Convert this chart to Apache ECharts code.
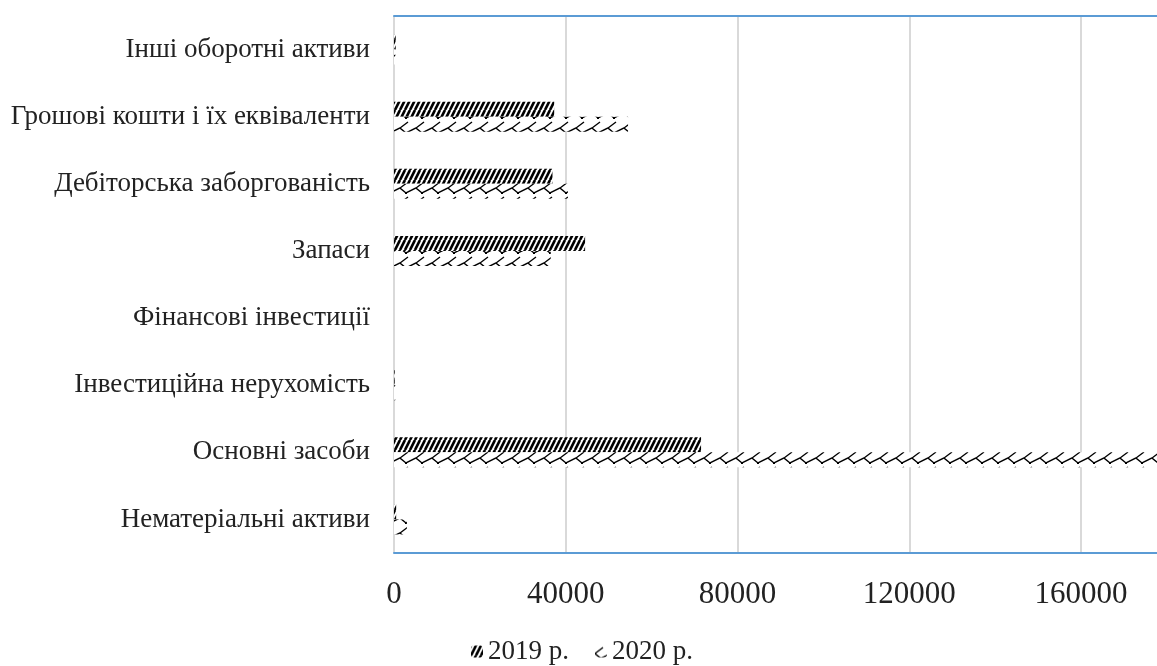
<!DOCTYPE html>
<html>
<head>
<meta charset="utf-8">
<script src="https://cdn.jsdelivr.net/npm/echarts@6/dist/echarts.min.js"></script>
<style>
html,body{margin:0;padding:0;background:#fff;overflow:hidden;}
#chart{width:1180px;height:666px;}
</style>
</head>
<body>
<div id="chart"></div>
<script>
const categories = [
  'Нематеріальні активи',
  'Основні засоби',
  'Інвестиційна нерухомість',
  'Фінансові інвестиції',
  'Запаси',
  'Дебіторська заборгованість',
  'Грошові кошти і їх еквіваленти',
  'Інші оборотні активи'
];
const values2019 = [500, 71500, 150, 0, 44500, 36900, 37300, 400];
const values2020 = [3000, 178500, 300, 0, 36500, 40500, 54500, 300];
const seriesNames = ['2019 р.', '2020 р.'];
const xTicks = [0, 40000, 80000, 120000, 160000];

function makeHatch() {
  const c = document.createElement('canvas');
  c.width = 5; c.height = 10;
  const g = c.getContext('2d');
  g.fillStyle = '#fff'; g.fillRect(0, 0, 5, 10);
  g.strokeStyle = '#000'; g.lineWidth = 2.6;
  g.beginPath();
  g.moveTo(-5, 10); g.lineTo(0, 0);
  g.moveTo(0, 10); g.lineTo(5, 0);
  g.moveTo(5, 10); g.lineTo(10, 0);
  g.stroke();
  return c;
}
function makeZigzag() {
  const c = document.createElement('canvas');
  c.width = 16; c.height = 15;
  const g = c.getContext('2d');
  g.fillStyle = '#fff'; g.fillRect(0, 0, 16, 15);
  g.strokeStyle = '#000'; g.lineWidth = 1.4;
  g.beginPath();
  g.moveTo(0, 8); g.lineTo(6, 13); g.lineTo(16, 8);
  g.moveTo(0, 8); g.lineTo(8, 2);
  g.moveTo(16, 8); g.lineTo(24, 2);
  g.stroke();
  g.fillStyle = '#000';
  g.fillRect(5, 12, 2, 2);
  return c;
}
const pat2019 = { image: makeHatch(), repeat: 'repeat' };
const pat2020 = { image: makeZigzag(), repeat: 'repeat' };

const chart = echarts.init(document.getElementById('chart'), null, { renderer: 'canvas' });
const font = '"Liberation Serif", "Times New Roman", serif';
chart.setOption({
  animation: false,
  backgroundColor: '#fff',
  grid: { left: 394, right: 13, top: 16, bottom: 113, containLabel: false, outerBoundsMode: 'none' },
  legend: {
    data: seriesNames,
    left: 466,
    top: 633,
    itemWidth: 12,
    itemHeight: 12,
    itemGap: 26,
    textStyle: { fontFamily: font, fontSize: 27, color: '#222' }
  },
  xAxis: [{
    type: 'value',
    min: 0, max: 180000, interval: 40000,
    position: 'bottom',
    axisLine: { show: true, lineStyle: { color: '#5B9BD5', width: 2 } },
    axisTick: { show: false },
    splitLine: { show: true, lineStyle: { color: '#D9D9D9', width: 2 } },
    axisLabel: {
      margin: 26,
      fontFamily: font, fontSize: 31, color: '#222',
      formatter: v => (xTicks.indexOf(v) >= 0 ? String(v) : '')
    }
  }, {
    type: 'value',
    min: 0, max: 180000, interval: 40000,
    position: 'top',
    axisLine: { show: true, onZero: false, lineStyle: { color: '#5B9BD5', width: 2 } },
    axisTick: { show: false },
    splitLine: { show: false },
    axisLabel: { show: false }
  }],
  yAxis: {
    type: 'category',
    data: categories,
    axisLine: { show: false },
    axisTick: { show: false },
    axisLabel: { margin: 24, fontFamily: font, fontSize: 27, color: '#222' }
  },
  series: [{
    name: '2019 р.',
    type: 'bar',
    data: values2019,
    barWidth: 15,
    barGap: '0%',
    itemStyle: { color: pat2019 }
  }, {
    name: '2020 р.',
    type: 'bar',
    data: values2020,
    barWidth: 15,
    barGap: '0%',
    itemStyle: { color: pat2020 }
  }]
});
</script>
</body>
</html>
